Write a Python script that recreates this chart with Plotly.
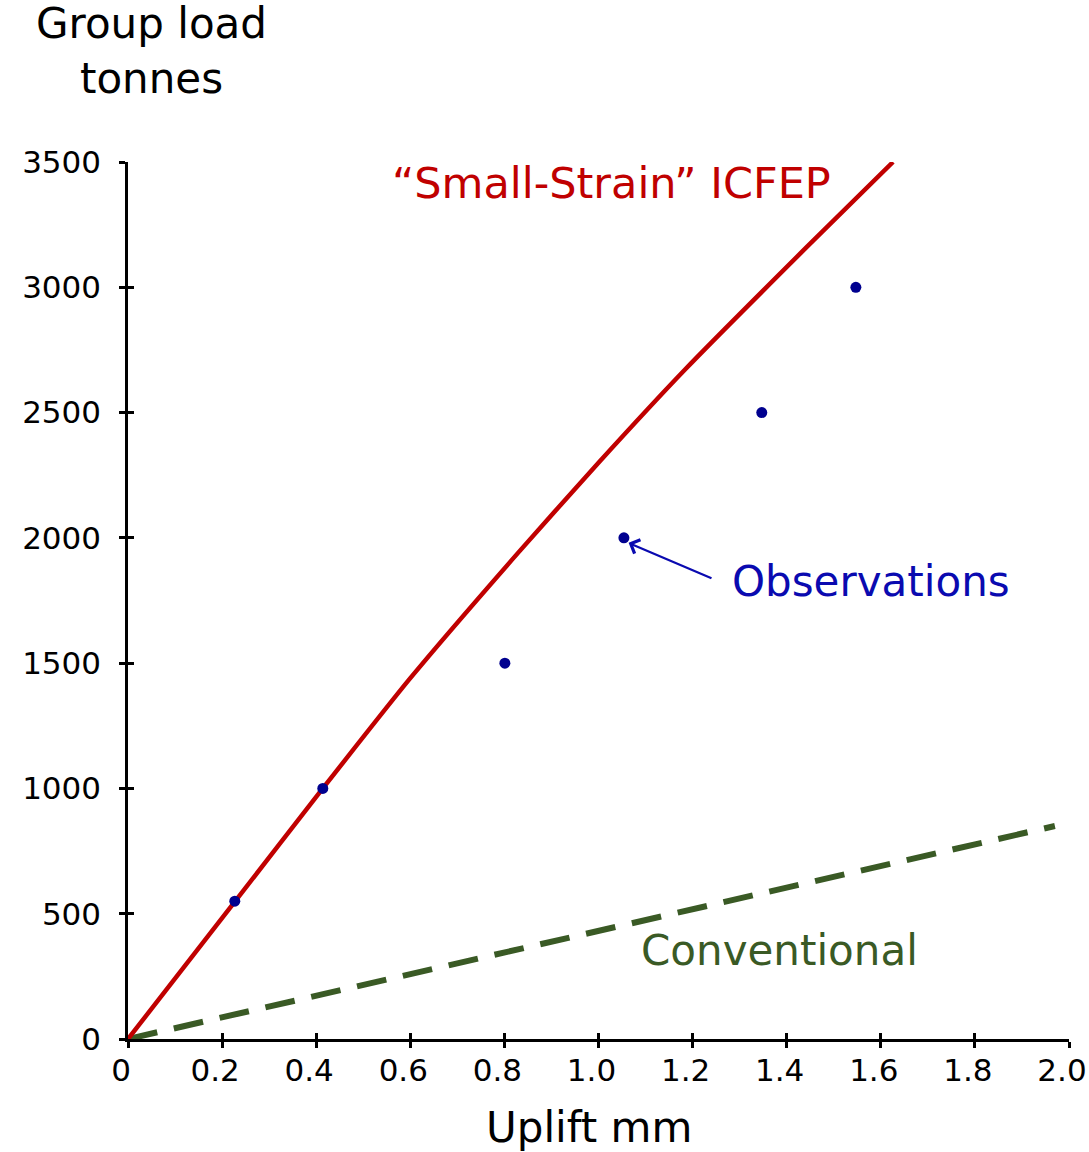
import plotly.graph_objects as go

# Data
obs_uplift = [0.227, 0.414, 0.801, 1.054, 1.347, 1.547]
obs_load = [550, 1000, 1500, 2000, 2500, 3000]

icfep_uplift = [0.0, 0.23, 0.414, 0.6, 0.829, 1.0, 1.184, 1.445, 1.626]
icfep_load = [0, 555, 1000, 1440, 1940, 2300, 2672, 3165, 3500]

conv_uplift = [0.0, 1.97]
conv_load = [0, 850]

x_ticks = [0, 0.2, 0.4, 0.6, 0.8, 1.0, 1.2, 1.4, 1.6, 1.8, 2.0]
x_ticktext = ["0", "0.2", "0.4", "0.6", "0.8", "1.0", "1.2", "1.4", "1.6", "1.8", "2.0"]
y_ticks = [0, 500, 1000, 1500, 2000, 2500, 3000, 3500]

FONT = "DejaVu Sans"
RED = "#C00000"
GREEN = "#3A5A25"
BLUE = "#0A0AB0"

fig = go.Figure()
fig.add_trace(go.Scatter(x=conv_uplift, y=conv_load, mode="lines",
                         line=dict(color=GREEN, width=6, dash="30px,17px"),
                         showlegend=False, hoverinfo="skip"))
fig.add_trace(go.Scatter(x=icfep_uplift, y=icfep_load, mode="lines",
                         line=dict(color=RED, width=4.5, shape="spline", smoothing=0.6),
                         showlegend=False, hoverinfo="skip"))
fig.add_trace(go.Scatter(x=obs_uplift, y=obs_load, mode="markers",
                         marker=dict(color="#00008F", size=11),
                         showlegend=False))

# overlay trace for inside ticks
fig.add_trace(go.Scatter(x=[None], y=[None], xaxis="x2", yaxis="y2", showlegend=False))

axis_common = dict(showgrid=False, zeroline=False, showline=True, linecolor="black",
                   linewidth=2.5, ticks="outside", ticklen=6, tickwidth=2.5, tickcolor="black",
                   tickfont=dict(family=FONT, size=31, color="black"),
                   ticklabeloverflow="allow", automargin=False)

fig.update_layout(
    width=1089, height=1152,
    margin=dict(l=128, r=20, t=162, b=113, autoexpand=False),
    paper_bgcolor="white", plot_bgcolor="white",
    xaxis=dict(range=[0, 2.0], tickvals=x_ticks, ticktext=x_ticktext,
               ticklabelshift=-7, ticklabelstandoff=-4, **axis_common),
    yaxis=dict(range=[0, 3500], tickvals=y_ticks, ticklabelstandoff=12, **axis_common),
    xaxis2=dict(range=[0, 2.0], overlaying="x", anchor="y2", side="bottom", tickvals=x_ticks,
                showticklabels=False, showgrid=False, zeroline=False, showline=False,
                ticks="inside", ticklen=6, tickwidth=2.5, tickcolor="black"),
    yaxis2=dict(range=[0, 3500], overlaying="y", anchor="x2", side="left", tickvals=y_ticks,
                showticklabels=False, showgrid=False, zeroline=False, showline=False,
                ticks="inside", ticklen=6, tickwidth=2.5, tickcolor="black"),
    showlegend=False,
)

annotations = [
    dict(text="Group load<br>tonnes", xref="paper", yref="paper",
         x=(151 - 128) / 941, y=(1039 - 51) / 877, xanchor="center", yanchor="middle",
         showarrow=False, font=dict(family=FONT, size=42, color="black")),
    dict(text="Uplift mm", xref="paper", yref="paper",
         x=(589 - 128) / 941, y=(1039 - 1127) / 877, xanchor="center", yanchor="middle",
         showarrow=False, font=dict(family=FONT, size=42, color="black")),
    dict(text="\u201cSmall-Strain\u201d ICFEP", xref="x", yref="y",
         x=(611 - 128) / 470.5, y=(1039 - 183) / 0.25057, xanchor="center", yanchor="middle",
         showarrow=False, font=dict(family=FONT, size=43, color=RED)),
    dict(text="Observations", xref="x", yref="y",
         x=(871 - 128) / 470.5, y=(1039 - 581) / 0.25057, xanchor="center", yanchor="middle",
         showarrow=False, font=dict(family=FONT, size=42, color=BLUE)),
    dict(text="Conventional", xref="x", yref="y",
         x=(779 - 128) / 470.5, y=(1039 - 950) / 0.25057, xanchor="center", yanchor="middle",
         showarrow=False, font=dict(family=FONT, size=42, color=GREEN)),
    dict(text="", xref="x", yref="y", x=1.064, y=1980,
         ax=(713 - 128) / 470.5, ay=(1039 - 579) / 0.25057, axref="x", ayref="y",
         showarrow=True, arrowhead=4, arrowsize=1.3, arrowwidth=2.2, arrowcolor=BLUE),
]
fig.update_layout(annotations=annotations)

fig.write_html("out.html")
